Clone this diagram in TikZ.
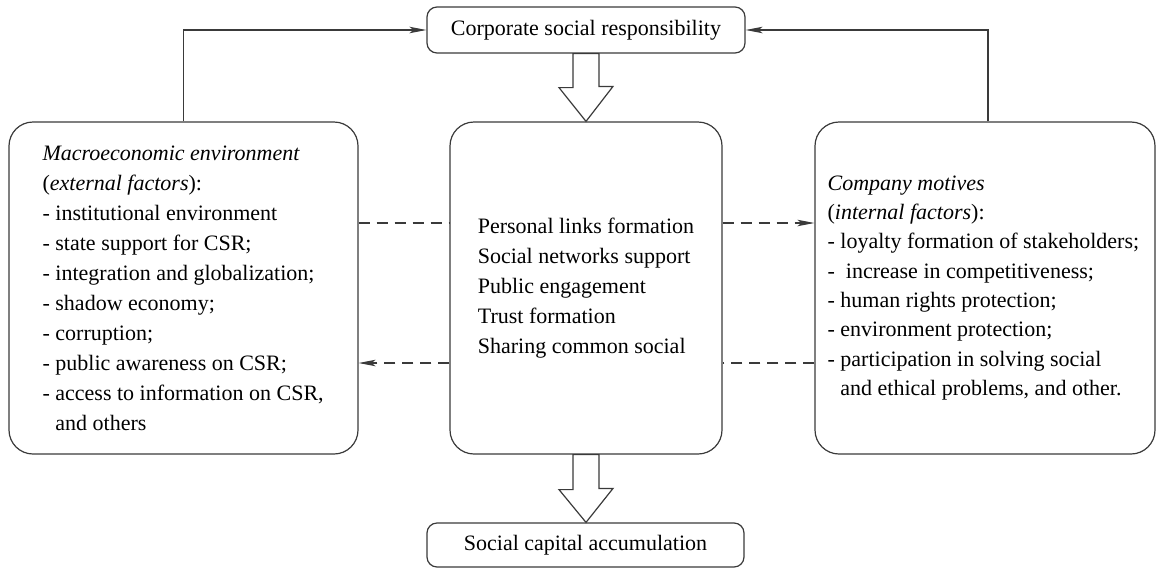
\documentclass[tikz,border=0pt]{standalone}
\usepackage{fontspec}
\setmainfont{Liberation Serif}
\usetikzlibrary{arrows.meta,calc}
\definecolor{linec}{HTML}{3A3A3A}
\tikzset{
  base/.style={draw=linec, line width=1.2pt},
  smallbox/.style={base, rounded corners=10pt, minimum width=318pt, minimum height=46pt, inner sep=0pt, font=\fontsize{22}{30}\selectfont},
  bigbox/.style={base, rounded corners=24pt, minimum height=332pt, inner sep=0pt},
  conn/.style={base, -{Stealth[length=17pt,width=6.5pt,inset=4pt]}},
  dline/.style={base, dash pattern=on 11pt off 7pt},
  darrow/.style={dline, -{Stealth[length=17pt,width=6.5pt,inset=4pt]}},
  hollow/.style={base, fill=white, line join=miter},
  lefttxt/.style={align=left, inner sep=0pt, anchor=west}
}
\begin{document}
\begin{tikzpicture}[x=1pt,y=-1pt]
\useasboundingbox (0,0) rectangle (1156,568);

\node[smallbox] (csr) at (586,30) {Corporate social responsibility};
\node[smallbox, minimum height=44pt, minimum width=317pt] (sca) at (585.5,545) {Social capital accumulation};

\node[bigbox, minimum width=349pt] (lbox) at (183.5,288) {};
\node[bigbox, minimum width=272pt, align=left, font=\fontsize{22}{30}\selectfont] (mid) at (586,288)
  {Personal links formation\\Social networks support\\Public engagement\\Trust formation\\Sharing common social};
\node[bigbox, minimum width=340pt] (rbox) at (985,288) {};

\node[lefttxt, font=\fontsize{22}{30}\selectfont] (ltext) at ([xshift=34pt]lbox.west)
  {\textit{Macroeconomic environment}\\
   (\textit{external factors}):\\
   - institutional environment\\
   - state support for CSR;\\
   - integration and globalization;\\
   - shadow economy;\\
   - corruption;\\
   - public awareness on CSR;\\
   - access to information on CSR,\\
   \hphantom{- }and others};

\node[lefttxt, font=\fontsize{22}{29.3}\selectfont] (rtext) at ([xshift=13pt]rbox.west)
  {\textit{Company motives}\\
   (\textit{internal factors}):\\
   - loyalty formation of stakeholders;\\
   - \ increase in competitiveness;\\
   - human rights protection;\\
   - environment protection;\\
   - participation in solving social\\
   \hphantom{- }and ethical problems, and other.};

% feedback connectors
\draw[conn] (lbox.north) |- (csr.west);
\draw[conn] ([xshift=3pt]rbox.north) |- (csr.east);

% dashed connectors
\draw[dline] ([yshift=65pt]lbox.east) -- ([yshift=65pt]mid.west);
\draw[darrow] ([yshift=65pt]mid.east) -- ([yshift=65pt]rbox.west);
\draw[dline] ([yshift=-75pt]rbox.west) -- ([yshift=-75pt]mid.east);
\draw[darrow] ([yshift=-75pt]mid.west) -- ([yshift=-75pt]lbox.east);

% hollow arrows
\draw[hollow] ([xshift=-13pt]csr.south) -- ++(0,34) -- ++(-14,0) -- (mid.north) -- ++(27,-35) -- ++(-14,0) -- ([xshift=13pt]csr.south) -- cycle;
\draw[hollow] ([xshift=-13pt]mid.south) -- ++(0,35) -- ++(-14,0) -- ([xshift=0.5pt]sca.north) -- ++(27,-34) -- ++(-14,0) -- ([xshift=13pt]mid.south) -- cycle;
\end{tikzpicture}
\end{document}
